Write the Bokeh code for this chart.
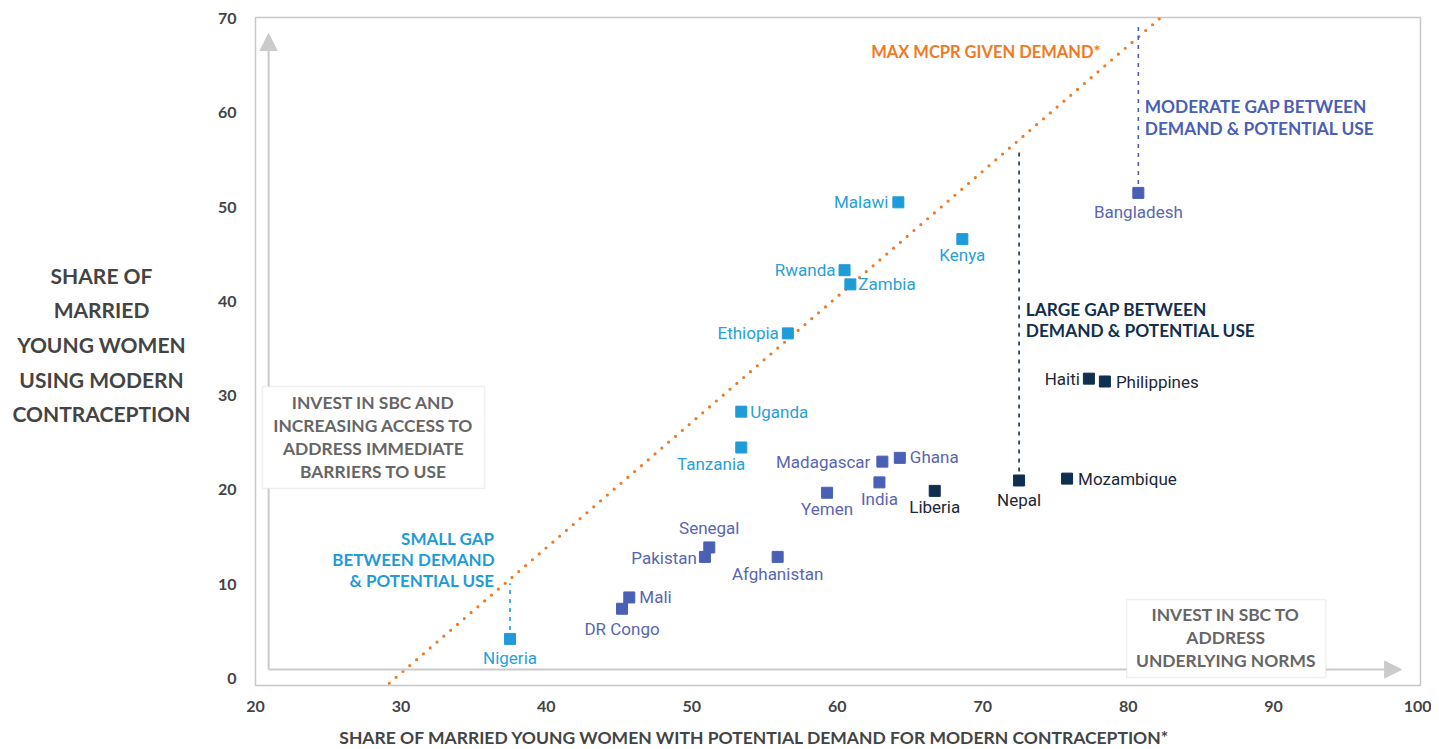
from bokeh.plotting import figure
from bokeh.layouts import row, column
from bokeh.models import (ColumnDataSource, Label, BoxAnnotation, Arrow, NormalHead, FixedTicker,
                          Range1d)
from bokeh.embed import file_html
from bokeh.resources import INLINE
from bokeh.core.properties import value

# ---------------- data ----------------
countries = ["Malawi", "Kenya", "Rwanda", "Zambia", "Ethiopia", "Uganda", "Tanzania", "Nigeria",
             "Bangladesh", "Madagascar", "Ghana", "India", "Yemen", "Senegal", "Pakistan",
             "Afghanistan", "Mali", "DR Congo",
             "Haiti", "Philippines", "Nepal", "Mozambique", "Liberia"]
demand = [64.2, 68.6, 60.5, 60.9, 56.6, 53.4, 53.4, 37.5,
          80.7, 63.1, 64.3, 62.9, 59.3, 51.2, 50.9,
          55.9, 45.7, 45.2,
          77.3, 78.4, 72.5, 75.8, 66.7]
mcpr = [50.5, 46.6, 43.3, 41.8, 36.6, 28.3, 24.5, 4.2,
        51.5, 23.0, 23.4, 20.8, 19.7, 13.9, 12.9,
        12.9, 8.6, 7.4,
        31.8, 31.5, 21.0, 21.2, 19.9]
gap_group = ["small"] * 8 + ["moderate"] * 10 + ["large"] * 5

max_line_x = [29.2, 82.25]
max_line_y = [-0.5, 70.1]

gap_countries = ["Nigeria", "Nepal", "Bangladesh"]
gap_top = [10.1, 56.2, 69.3]

x_ticks = [20, 30, 40, 50, 60, 70, 80, 90, 100]
y_ticks = [0, 10, 20, 30, 40, 50, 60, 70]

y_title_lines = ["SHARE OF", "MARRIED", "YOUNG WOMEN", "USING MODERN", "CONTRACEPTION"]
x_title = "SHARE OF MARRIED YOUNG WOMEN WITH POTENTIAL DEMAND FOR MODERN CONTRACEPTION*"

# ---------------- styles ----------------
marker_colors = {"small": "#1f9bd7", "moderate": "#4a60b4", "large": "#0f2f50"}
label_colors = {"small": "#2a9fd8", "moderate": "#5a66b0", "large": "#1b2838"}
ORANGE = "#ef7a25"
GRAY_TXT = "#666666"
AX_TXT = "#444444"
BOLD_FONT = "Lato"
LBL_FONT = "Roboto"

# label placement (pixel offsets, alignment)
placement = {
    "Malawi": (-10, 0, "right"), "Kenya": (0, 16, "center"), "Rwanda": (-9, 0, "right"),
    "Zambia": (8, 0, "left"), "Ethiopia": (-9, 0, "right"), "Uganda": (9, 0, "left"),
    "Tanzania": (4, 17, "right"), "Nigeria": (0, 19, "center"), "Bangladesh": (0, 19, "center"),
    "Madagascar": (-12, 0, "right"), "Ghana": (10, -1, "left"), "India": (0, 17, "center"),
    "Yemen": (0, 16, "center"), "Senegal": (0, -19, "center"), "Pakistan": (-8, 1, "right"),
    "Afghanistan": (0, 17, "center"), "Mali": (10, 0, "left"), "DR Congo": (0, 20, "center"),
    "Haiti": (-9, 0, "right"), "Philippines": (11, 1, "left"), "Nepal": (0, 20, "center"),
    "Mozambique": (11, 0, "left"), "Liberia": (0, 16, "center"),
}

src = ColumnDataSource(dict(
    x=demand, y=mcpr, name=countries,
    mcol=[marker_colors[g] for g in gap_group],
    lcol=[label_colors[g] for g in gap_group],
    dx=[placement[c][0] for c in countries],
    dy=[placement[c][1] for c in countries],
    align=[placement[c][2] for c in countries],
))

x_range = Range1d(20, 100.1)
y_range = Range1d(-0.74, 70.1)
H = 715

p = figure(width=1231, height=H, output_backend="svg", toolbar_location=None,
           x_range=x_range, y_range=y_range,
           min_border_left=55, min_border_right=11, min_border_top=17, min_border_bottom=30)
p.background_fill_color = "white"
p.border_fill_color = "white"
p.outline_line_color = "#c8c8c8"
p.outline_line_width = 1.5
p.grid.visible = False

for ax in (p.xaxis[0], p.yaxis[0]):
    ax.axis_line_color = None
    ax.major_tick_line_color = None
    ax.minor_tick_line_color = None
    ax.major_label_text_font = BOLD_FONT
    ax.major_label_text_font_style = "bold"
    ax.major_label_text_font_size = "16px"
    ax.major_label_text_color = AX_TXT
p.xaxis.ticker = FixedTicker(ticks=x_ticks)
p.yaxis.ticker = FixedTicker(ticks=y_ticks)
p.xaxis.major_label_standoff = 9
p.yaxis.major_label_standoff = 13

# arrows (background)
arrow_col = "#cbcbcb"
p.add_layout(Arrow(end=NormalHead(size=17, fill_color=arrow_col, line_color=arrow_col),
                   x_start=20.9, y_start=0.95, x_end=20.9, y_end=68.4,
                   line_color=arrow_col, line_width=2))
p.add_layout(Arrow(end=NormalHead(size=17, fill_color=arrow_col, line_color=arrow_col),
                   x_start=20.9, y_start=0.95, x_end=98.8, y_end=0.95,
                   line_color=arrow_col, line_width=2))

# max MCPR line
p.line(max_line_x, max_line_y, line_color=ORANGE, line_width=3.2, line_dash="0 9",
       line_cap="round")

# gap lines
for c, top in zip(gap_countries, gap_top):
    i = countries.index(c)
    p.segment(x0=[demand[i]], y0=[mcpr[i]], x1=[demand[i]], y1=[top],
              line_color=marker_colors[gap_group[i]], line_width=1.6, line_dash="4 5")

# markers and labels
p.scatter("x", "y", source=src, marker="square", size=11, fill_color="mcol", line_color="mcol")
p.text("x", "y", text="name", source=src, text_color="lcol", text_align="align",
       text_baseline="middle", x_offset="dx", y_offset="dy",
       text_font=value(LBL_FONT), text_font_size="17px")

# boxes
p.add_layout(BoxAnnotation(left=20.48, right=35.75, bottom=20.15, top=30.96,
                           fill_color="white", fill_alpha=1, line_color="#c9c9c9", line_width=1.5))
p.add_layout(BoxAnnotation(left=79.9, right=93.59, bottom=0.11, top=8.38,
                           fill_color="white", fill_alpha=1, line_color="#c9c9c9", line_width=1.5))


def add_lines(fig, lines, x, ys, color, align, size):
    for t, yy in zip(lines, ys):
        fig.add_layout(Label(x=x, y=yy, text=t, text_color=color, text_align=align,
                             text_baseline="middle", text_font=BOLD_FONT, text_font_style="bold",
                             text_font_size=size))


add_lines(p, ["INVEST IN SBC AND", "INCREASING ACCESS TO", "ADDRESS IMMEDIATE", "BARRIERS TO USE"],
          28.1, [29.27, 26.83, 24.39, 21.95], GRAY_TXT, "center", "17.4px")
add_lines(p, ["INVEST IN SBC TO", "ADDRESS", "UNDERLYING NORMS"],
          86.71, [6.79, 4.35, 1.91], GRAY_TXT, "center", "17.4px")
add_lines(p, ["MAX MCPR GIVEN DEMAND*"], 78.1, [66.4], ORANGE, "right", "16.5px")
add_lines(p, ["MODERATE GAP BETWEEN", "DEMAND & POTENTIAL USE"], 81.14, [60.66, 58.32],
          marker_colors["moderate"], "left", "17.3px")
add_lines(p, ["LARGE GAP BETWEEN", "DEMAND & POTENTIAL USE"], 72.96, [39.13, 36.90],
          "#132f4f", "left", "17.3px")
add_lines(p, ["SMALL GAP", "BETWEEN DEMAND", "& POTENTIAL USE"], 36.44, [14.85, 12.62, 10.39],
          marker_colors["small"], "right", "17px")


def blank(fig):
    fig.outline_line_color = None
    fig.grid.visible = False
    fig.background_fill_color = "white"
    fig.border_fill_color = "white"


# left panel holding the horizontal y-axis title
left = figure(width=200, height=H, output_backend="svg", toolbar_location=None,
              x_range=Range1d(0, 200), y_range=y_range, x_axis_type=None, y_axis_type=None,
              min_border_left=0, min_border_right=0, min_border_top=17, min_border_bottom=30)
blank(left)
add_lines(left, y_title_lines, 101, [42.74, 39.13, 35.42, 31.71, 28.10], AX_TXT, "center", "21px")

# bottom panel holding the x-axis title
bottom = figure(width=1431, height=33, output_backend="svg", toolbar_location=None,
                x_range=x_range, y_range=Range1d(0, 33), x_axis_type=None, y_axis_type=None,
                min_border_left=255, min_border_right=11, min_border_top=0, min_border_bottom=0)
blank(bottom)
add_lines(bottom, [x_title], 54.32, [11], AX_TXT, "center", "17.5px")

layout = column(row(left, p, spacing=0), bottom, spacing=0)
open("out.html", "w").write(file_html(layout, INLINE))
